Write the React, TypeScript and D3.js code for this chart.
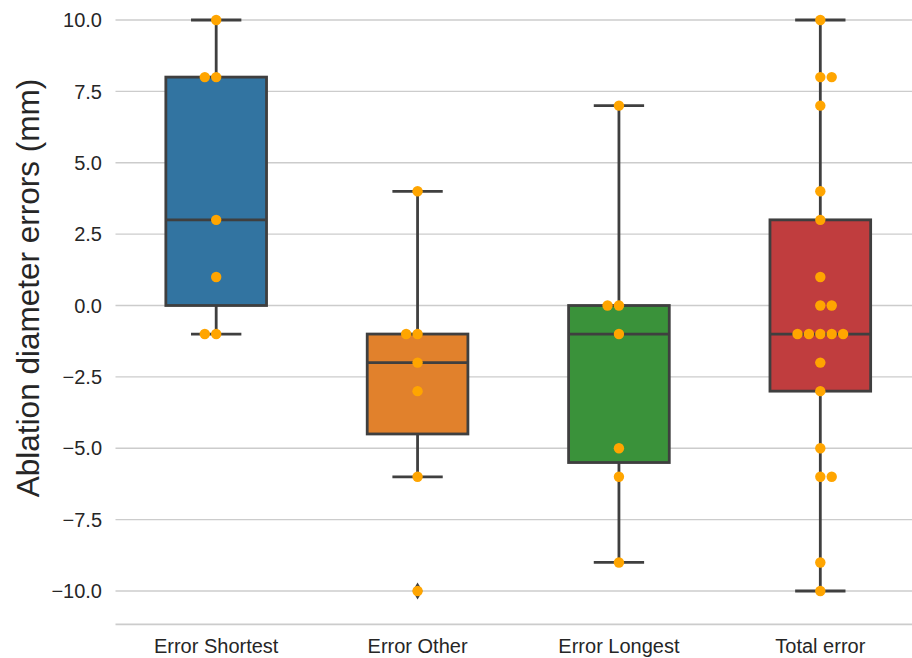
import * as d3 from "d3";
import { useEffect, useRef } from "react";

// values
const categories = ["Error Shortest", "Error Other", "Error Longest", "Total error"];
const errorShortest = [10, 8, 8, 3, 1, -1, -1];
const errorOther = [4, -1, -1, -2, -3, -6, -10];
const errorLongest = [7, 0, 0, -1, -5, -6, -9];
const totalError = [10, 8, 8, 7, 4, 3, 1, 0, 0, -1, -1, -1, -1, -1, -2, -3, -5, -6, -6, -9, -10];
const yTicks = [-10, -7.5, -5, -2.5, 0, 2.5, 5, 7.5, 10];
const boxColors = ["#3274a1", "#e1812c", "#3a923a", "#c03d3e"];
// which side the second of two equal points goes to in the swarm
const swarmSide = [-1, -1, -1, 1];

const W = 912;
const H = 658;
const FONT = "'Liberation Sans', Arial, sans-serif";
const EDGE = "#3f3f3f";

export default function App() {
  const ref = useRef<SVGSVGElement>(null);

  useEffect(() => {
    const svg = d3.select(ref.current);
    svg.selectAll("*").remove();

    const series = [errorShortest, errorOther, errorLongest, totalError];

    const x = d3.scaleBand().domain(categories).range([115.5, 921]).padding(0);
    const y = d3.scaleLinear().domain([-10, 10]).range([591, 20]);
    const bw = x.bandwidth();
    const boxW = bw * 0.5;
    const bottom = y(-11.17);

    // grid
    svg.append("g")
      .selectAll("line")
      .data(yTicks)
      .enter()
      .append("line")
      .attr("x1", 115.5)
      .attr("x2", W)
      .attr("y1", d => y(d))
      .attr("y2", d => y(d))
      .attr("stroke", "#cccccc")
      .attr("stroke-width", 1.4);

    svg.append("line")
      .attr("x1", 115.5).attr("x2", W)
      .attr("y1", bottom).attr("y2", bottom)
      .attr("stroke", "#cccccc")
      .attr("stroke-width", 1.6);

    // y tick labels
    svg.append("g")
      .selectAll("text")
      .data(yTicks)
      .enter()
      .append("text")
      .attr("x", 102)
      .attr("y", d => y(d))
      .attr("dy", "0.36em")
      .attr("text-anchor", "end")
      .attr("font-family", FONT)
      .attr("font-size", 20)
      .attr("fill", "#262626")
      .text(d => d3.format(".1f")(d).replace("-", "\u2212"));

    // x tick labels
    svg.append("g")
      .selectAll("text")
      .data(categories)
      .enter()
      .append("text")
      .attr("x", d => (x(d) as number) + bw / 2)
      .attr("y", 653)
      .attr("text-anchor", "middle")
      .attr("font-family", FONT)
      .attr("font-size", 20)
      .attr("fill", "#262626")
      .text(d => d);

    // y label
    svg.append("text")
      .attr("transform", "translate(39,288) rotate(-90)")
      .attr("text-anchor", "middle")
      .attr("font-family", FONT)
      .attr("font-size", 31.5)
      .attr("fill", "#262626")
      .text("Ablation diameter errors (mm)");

    // boxes
    series.forEach((vals, i) => {
      const cx = (x(categories[i]) as number) + bw / 2;
      const sorted = vals.slice().sort(d3.ascending);
      const q1 = d3.quantile(sorted, 0.25) as number;
      const med = d3.quantile(sorted, 0.5) as number;
      const q3 = d3.quantile(sorted, 0.75) as number;
      const iqr = q3 - q1;
      const lo = d3.min(sorted.filter(v => v >= q1 - 1.5 * iqr)) as number;
      const hi = d3.max(sorted.filter(v => v <= q3 + 1.5 * iqr)) as number;
      const outliers = sorted.filter(v => v < lo || v > hi);

      const g = svg.append("g");
      const line = (x1: number, y1: number, x2: number, y2: number) =>
        g.append("line")
          .attr("x1", x1).attr("x2", x2).attr("y1", y1).attr("y2", y2)
          .attr("stroke", EDGE)
          .attr("stroke-width", 2.8)
          .attr("stroke-linecap", "butt");

      line(cx, y(q3), cx, y(hi));
      line(cx, y(q1), cx, y(lo));
      line(cx - boxW / 4, y(hi), cx + boxW / 4, y(hi));
      line(cx - boxW / 4, y(lo), cx + boxW / 4, y(lo));

      g.append("rect")
        .attr("x", cx - boxW / 2)
        .attr("y", y(q3))
        .attr("width", boxW)
        .attr("height", y(q1) - y(q3))
        .attr("fill", boxColors[i])
        .attr("stroke", EDGE)
        .attr("stroke-width", 2.8);

      line(cx - boxW / 2, y(med), cx + boxW / 2, y(med));

      g.selectAll("path.out")
        .data(outliers)
        .enter()
        .append("path")
        .attr("d", "M0,-8.5L5,0L0,8.5L-5,0Z")
        .attr("transform", d => `translate(${cx},${y(d)})`)
        .attr("fill", EDGE);
    });

    // swarm
    const dia = 11.4;
    series.forEach((vals, i) => {
      const cx = (x(categories[i]) as number) + bw / 2;
      const side = swarmSide[i];
      const placed: { x: number; y: number }[] = [];
      const sorted = vals.slice().sort(d3.descending);
      sorted.forEach(v => {
        const py = y(v);
        for (let k = 0; k < 20; k++) {
          const step = Math.ceil(k / 2);
          const sign = k % 2 === 1 ? side : -side;
          const off = k === 0 ? 0 : sign * step * dia;
          const ok = placed.every(p => Math.hypot(p.x - off, p.y - py) >= dia - 0.01);
          if (ok) {
            placed.push({ x: off, y: py });
            break;
          }
        }
      });
      svg.append("g")
        .selectAll("circle")
        .data(placed)
        .enter()
        .append("circle")
        .attr("cx", d => cx + d.x)
        .attr("cy", d => d.y)
        .attr("r", 5.2)
        .attr("fill", "#ffa500");
    });
  }, []);

  return (
    <svg
      ref={ref}
      width={W}
      height={H}
      style={{ position: "absolute", left: 0, top: 0, background: "#fff" }}
    />
  );
}
